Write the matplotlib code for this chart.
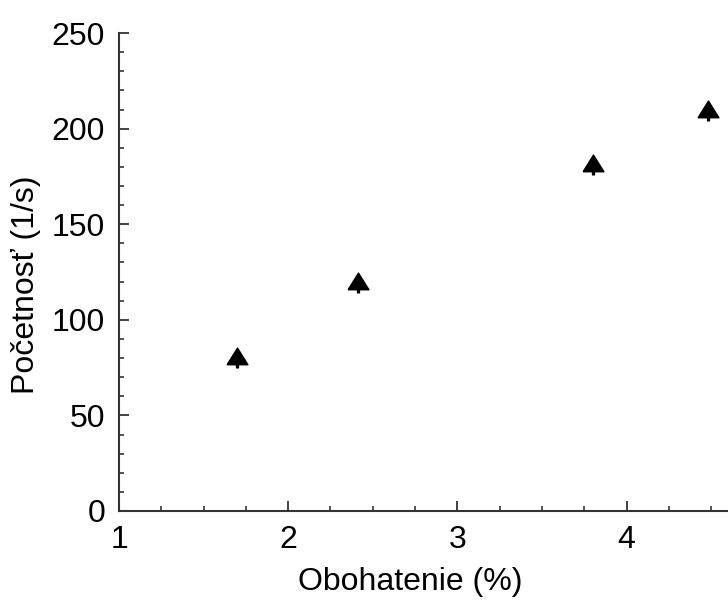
import numpy as np
import matplotlib.pyplot as plt
from matplotlib.ticker import MultipleLocator

# data
obohatenie = [1.70, 2.41, 3.80, 4.48]
pocetnost = [80, 119, 181, 209]

plt.rcParams['font.family'] = ['Liberation Sans', 'DejaVu Sans']

# triangle with a tiny stem, like the original marker
tri = [(-1, -0.6), (0, 1), (1, -0.6), (0.09, -0.6), (0.09, -0.9),
       (-0.09, -0.9), (-0.09, -0.6), (-1, -0.6)]

fig = plt.figure(figsize=(7.28, 6.01), dpi=100)
ax = fig.add_axes([0.1635, 0.1498, 0.8365, 0.7952])

ax.plot(obohatenie, pocetnost, linestyle='none', marker=tri, ms=15,
        color='black', clip_on=False)

ax.set_xlim(1, 4.6)
ax.set_ylim(0, 250)
ax.xaxis.set_major_locator(MultipleLocator(1))
ax.xaxis.set_minor_locator(MultipleLocator(0.25))
ax.yaxis.set_major_locator(MultipleLocator(50))
ax.yaxis.set_minor_locator(MultipleLocator(10))

ax.spines['top'].set_visible(False)
ax.spines['right'].set_visible(False)
for s in ['left', 'bottom']:
    ax.spines[s].set_linewidth(1.5)
    ax.spines[s].set_color('#333333')

ax.tick_params(which='major', direction='in', length=7, width=1.3,
               color='#333333', labelsize=23, pad=10)
ax.tick_params(which='minor', direction='in', length=3.5, width=1.2,
               color='#333333')

ax.set_xlabel('Obohatenie (%)', fontsize=23)
ax.xaxis.set_label_coords(0.479, -0.118)
ax.set_ylabel('Početnosť (1/s)', fontsize=23)
ax.yaxis.set_label_coords(-0.128, 0.473)

fig.savefig('out.png', dpi=100)
